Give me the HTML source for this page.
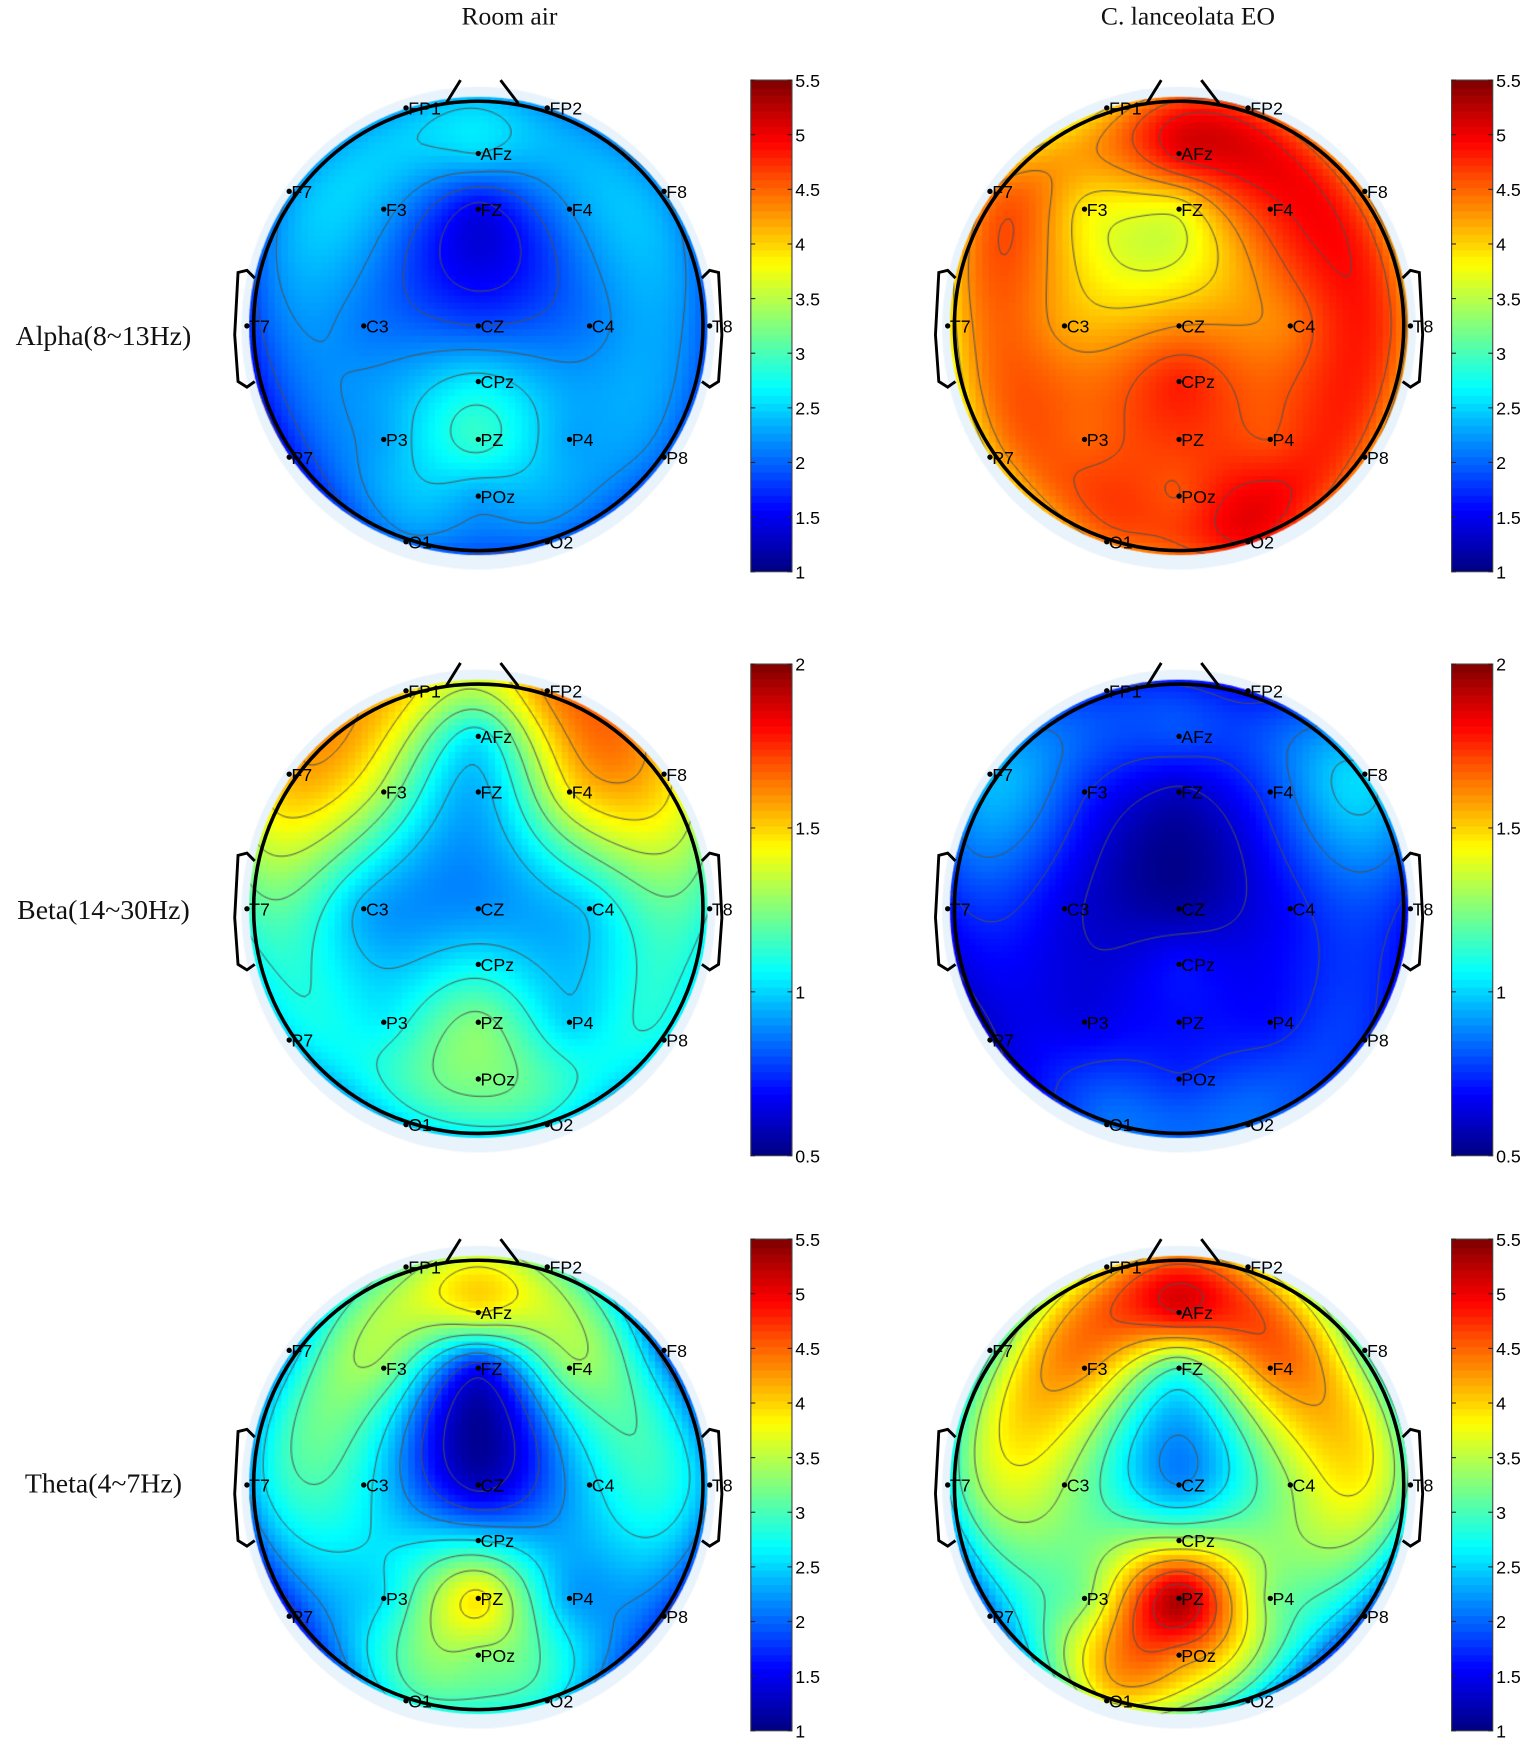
<!DOCTYPE html>
<html><head><meta charset="utf-8">
<style>
html,body{margin:0;padding:0;background:#fff;}
body{width:1535px;height:1753px;overflow:hidden;position:relative;}
#wrap{position:absolute;left:0;top:0;width:1380px;height:1576px;transform:scale(1.11232);transform-origin:0 0;}
.title{position:absolute;font-family:"Liberation Serif",serif;font-size:23px;color:#111;white-space:nowrap;transform:translateX(-50%);}
.rowlab{position:absolute;font-family:"Liberation Serif",serif;font-size:25px;color:#111;white-space:nowrap;transform:translate(-50%,-50%);}
canvas{position:absolute;}
svg{position:absolute;left:0;top:0;}
</style></head>
<body>
<div id="wrap">
<div class="title" style="left:458px;top:2px">Room air</div>
<div class="title" style="left:1068px;top:2px">C. lanceolata EO</div>
<div class="rowlab" style="left:93px;top:303px">Alpha(8~13Hz)</div>
<div class="rowlab" style="left:93px;top:819px">Beta(14~30Hz)</div>
<div class="rowlab" style="left:93px;top:1335px">Theta(4~7Hz)</div>
<svg id="ov" width="1380" height="1576"></svg>
</div>
<script>
// electrode names
const names=["FP1","FP2","AFz","F7","F3","FZ","F4","F8","T7","C3","CZ","C4","T8","CPz","P3","PZ","P4","P7","P8","POz","O1","O2"];
// values per map (same order as names)
const alphaRoom=[2.3,2.2,2.5,2.2,2.3,1.5,2.2,2.2,1.7,2.1,1.9,2.1,1.9,2.6,2.3,2.9,2.3,1.6,2.0,2.3,2.1,2.0];
const alphaEO=[4.0,4.6,5.0,4.3,3.9,3.8,4.8,4.3,3.8,4.2,4.3,4.4,4.2,4.8,4.5,4.7,4.6,4.0,4.4,4.6,4.4,4.9];
const betaRoom=[1.5,1.6,1.05,1.55,1.3,0.95,1.45,1.5,1.15,0.95,0.9,1.0,1.1,1.05,1.05,1.25,1.0,1.0,1.05,1.25,1.0,1.05];
const betaEO=[0.75,0.7,0.8,0.95,0.75,0.6,0.78,1.0,0.7,0.65,0.55,0.7,0.7,0.7,0.65,0.7,0.7,0.6,0.75,0.75,0.85,0.85];
const thetaRoom=[3.2,3.2,3.8,2.3,3.3,1.6,3.3,2.0,2.2,2.7,1.3,2.5,2.2,2.6,2.6,3.9,2.3,1.6,1.8,3.3,2.8,2.7];
const thetaEO=[3.9,4.0,5.0,2.9,4.3,3.0,4.4,3.0,2.6,3.4,2.2,3.4,2.9,3.5,3.3,5.3,3.3,2.0,2.0,4.4,3.8,2.6];
const ticksA=["1","1.5","2","2.5","3","3.5","4","4.5","5","5.5"];
const ticksB=["0.5","1","1.5","2"];

// layout (px offsets from head centre)
const ex=[-65,62,0,-170,-85,0,82,167,-208,-103,0,100,208,0,-85,0,82,-170,167,0,-65,62];
const ey=[-196,-196,-155,-121,-105,-105,-105,-121,0,0,0,0,0,50,102,102,102,118,118,153,194,194];

function jet(t){t=Math.max(0,Math.min(1,t));
 const r=Math.max(0,Math.min(1,1.5-Math.abs(4*t-3)));
 const g=Math.max(0,Math.min(1,1.5-Math.abs(4*t-2)));
 const b=Math.max(0,Math.min(1,1.5-Math.abs(4*t-1)));
 return [Math.round(r*255),Math.round(g*255),Math.round(b*255)];}
// biharmonic spline (griddata v4 style)
function green(d2){if(d2<1e-9)return 0;const r=Math.sqrt(d2)/100;return r*r*(Math.log(r)-1);}
function solve(A,b){const n=b.length;A=A.map(r=>r.slice());b=b.slice();
 for(let i=0;i<n;i++){let p=i;for(let k=i+1;k<n;k++)if(Math.abs(A[k][i])>Math.abs(A[p][i]))p=k;
  [A[i],A[p]]=[A[p],A[i]];[b[i],b[p]]=[b[p],b[i]];
  for(let k=i+1;k<n;k++){const f=A[k][i]/A[i][i];for(let j=i;j<n;j++)A[k][j]-=f*A[i][j];b[k]-=f*b[i];}}
 const x=new Array(n).fill(0);for(let i=n-1;i>=0;i--){let s=b[i];for(let j=i+1;j<n;j++)s-=A[i][j]*x[j];x[i]=s/A[i][i];}return x;}
function spline(vals){const n=vals.length;const A=[];for(let i=0;i<n;i++){A[i]=[];for(let j=0;j<n;j++)A[i][j]=green((ex[i]-ex[j])**2+(ey[i]-ey[j])**2);}
 const w=solve(A,vals);
 return (x,y)=>{let s=0;for(let k=0;k<n;k++)s+=w[k]*green((x-ex[k])**2+(y-ey[k])**2);return s;};}

const ov=document.getElementById('ov');const NS="http://www.w3.org/2000/svg";
function se(tag,attrs,name,parent){const e=document.createElementNS(NS,tag);for(const k in attrs)e.setAttribute(k,attrs[k]);
 
 
 (parent||ov).appendChild(e);return e;}

function head(cx,cy,vals,vmin,vmax,step,key){
 const wrap=document.getElementById('wrap');
 const cv=document.createElement('canvas');cv.width=440;cv.height=440;
 cv.style.left=(cx-220)+'px';cv.style.top=(cy-220)+'px';
 
 
 wrap.insertBefore(cv,ov);
 const c=cv.getContext('2d');const f=spline(vals);
 c.fillStyle='#e9f3fc';c.beginPath();c.ellipse(220,222,213,217,0,0,2*Math.PI);c.fill();
 const N=69,cs=6,o=220-N*cs/2;
 c.save();c.beginPath();c.arc(220,220,206,0,2*Math.PI);c.clip();
 for(let i=0;i<N;i++)for(let j=0;j<N;j++){
  const x=o+i*cs+cs/2-220,y=o+j*cs+cs/2-220;const v=f(x,y);
  const col=jet((v-vmin)/(vmax-vmin));c.fillStyle='rgb('+col+')';c.fillRect(o+i*cs,o+j*cs,cs+0.5,cs+0.5);}
 // contours via marching squares on 4px grid
 const M=111,gs=4,go=220-(M-1)*gs/2;const G=[];
 for(let i=0;i<M;i++){G[i]=[];for(let j=0;j<M;j++)G[i][j]=f(go+i*gs-220,go+j*gs-220);}
 c.strokeStyle='rgba(80,80,80,0.9)';c.lineWidth=1;c.beginPath();
 for(let lv=vmin+step;lv<vmax;lv+=step){
  for(let i=0;i<M-1;i++)for(let j=0;j<M-1;j++){
   const x0=go+i*gs,y0=go+j*gs;
   const a=G[i][j],b=G[i+1][j],d=G[i+1][j+1],e=G[i][j+1];const pts=[];
   const ed=(p,q,x1,y1,x2,y2)=>{if((p<lv)!=(q<lv)){const t=(lv-p)/(q-p);pts.push([x1+(x2-x1)*t,y1+(y2-y1)*t]);}};
   ed(a,b,x0,y0,x0+gs,y0);ed(b,d,x0+gs,y0,x0+gs,y0+gs);ed(d,e,x0+gs,y0+gs,x0,y0+gs);ed(e,a,x0,y0+gs,x0,y0);
   for(let k=0;k+1<pts.length;k+=2){c.moveTo(pts[k][0],pts[k][1]);c.lineTo(pts[k+1][0],pts[k+1][1]);}
  }}
 c.stroke();c.restore();
 const g=se('g',{},'head-outline-'+key);
 se('circle',{cx:cx,cy:cy,r:202,fill:'none',stroke:'#000','stroke-width':3.2},'head-circle',g);
 se('polyline',{points:`${cx-29},${cy-200} ${cx-16},${cy-221}`,fill:'none',stroke:'#000','stroke-width':2.6},'nose-left',g);
 se('polyline',{points:`${cx+36},${cy-200} ${cx+20},${cy-221}`,fill:'none',stroke:'#000','stroke-width':2.6},'nose-right',g);
 se('polyline',{points:`${cx-201},${cy-43} ${cx-208},${cy-50} ${cx-216},${cy-48} ${cx-219},${cy+8} ${cx-216},${cy+50} ${cx-208},${cy+55} ${cx-201},${cy+50}`,fill:'none',stroke:'#000','stroke-width':2.6},'ear-left',g);
 se('polyline',{points:`${cx+201},${cy-43} ${cx+208},${cy-50} ${cx+216},${cy-48} ${cx+219},${cy+8} ${cx+216},${cy+50} ${cx+208},${cy+55} ${cx+201},${cy+50}`,fill:'none',stroke:'#000','stroke-width':2.6},'ear-right',g);
 for(let k=0;k<names.length;k++){
  se('circle',{cx:cx+ex[k],cy:cy+ey[k],r:2.4,fill:'#000'},'electrode-'+names[k],g);
  const t=se('text',{x:cx+ex[k]+2,y:cy+ey[k]+6,'font-family':'Liberation Sans, sans-serif','font-size':16,fill:'#000'},'electrode-label-'+names[k],g);
  t.textContent=names[k];}
}
function cbar(x,y,vmin,vmax,ticks,key){
 const wrap=document.getElementById('wrap');
 const cv=document.createElement('canvas');cv.width=37;cv.height=442;cv.style.left=x+'px';cv.style.top=y+'px';
 
 
 wrap.insertBefore(cv,ov);
 const c=cv.getContext('2d');const n=64;
 for(let i=0;i<n;i++){c.fillStyle='rgb('+jet((i+0.5)/n)+')';const y0=442-(i+1)*442/n;c.fillRect(0,Math.floor(y0),37,Math.ceil(442/n)+1);}
 const g=se('g',{},'colorbar-axis-'+key);
 se('rect',{x:x,y:y,width:37,height:442,fill:'none',stroke:'#444','stroke-width':1},'colorbar-frame',g);
 for(const tl of ticks){const v=parseFloat(tl);const ty=y+442-(v-vmin)/(vmax-vmin)*442;
  se('line',{x1:x,y1:ty,x2:x+4,y2:ty,stroke:'#222'},'tick-left',g);
  se('line',{x1:x+33,y1:ty,x2:x+37,y2:ty,stroke:'#222'},'tick-right',g);
  const t=se('text',{x:x+40,y:ty+6,'font-family':'Liberation Sans, sans-serif','font-size':16,fill:'#000'},'tick-label',g);t.textContent=tl;}
}
head(430,293,alphaRoom,1,5.5,0.3,'alpha-room');head(1060,293,alphaEO,1,5.5,0.3,'alpha-eo');
head(430,817,betaRoom,0.5,2,0.12,'beta-room');head(1060,817,betaEO,0.5,2,0.12,'beta-eo');
head(430,1335,thetaRoom,1,5.5,0.4,'theta-room');head(1060,1335,thetaEO,1,5.5,0.4,'theta-eo');
cbar(675,72,1,5.5,ticksA,'alpha-room');cbar(1305,72,1,5.5,ticksA,'alpha-eo');
cbar(675,597,0.5,2,ticksB,'beta-room');cbar(1305,597,0.5,2,ticksB,'beta-eo');
cbar(675,1114,1,5.5,ticksA,'theta-room');cbar(1305,1114,1,5.5,ticksA,'theta-eo');
</script>
</body></html>
